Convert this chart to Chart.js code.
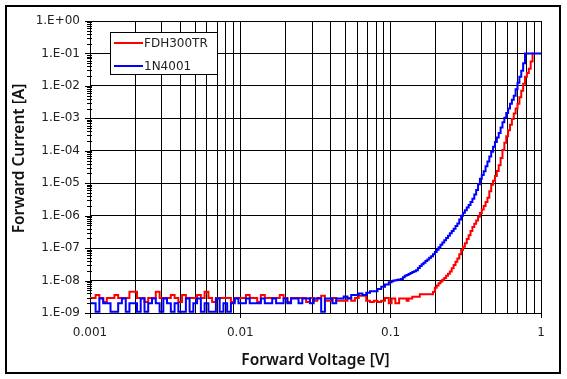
<!DOCTYPE html>
<html><head><meta charset="utf-8">
<script src="https://cdn.jsdelivr.net/npm/chart.js@4/dist/chart.umd.min.js"></script>
<style>html,body{margin:0;padding:0;background:#fff}#wrap{width:567px;height:379px;position:relative}</style>
</head><body><div id="wrap"><canvas id="c" width="567" height="379"></canvas></div>
<script>
const voltages = [
0.001, 0.00106, 0.00112, 0.00119, 0.00126, 0.00133, 0.00141, 0.00150, 0.00158, 0.00168,
0.00178, 0.00188, 0.00200, 0.00211, 0.00224, 0.00237, 0.00251, 0.00266, 0.00282, 0.00299,
0.00316, 0.00335, 0.00355, 0.00376, 0.00398, 0.00422, 0.00447, 0.00473, 0.00501, 0.00531,
0.00562, 0.00596, 0.00631, 0.00668, 0.00708, 0.00750, 0.00794, 0.00841, 0.00891, 0.00944,
0.0100, 0.0106, 0.0112, 0.0119, 0.0126, 0.0133, 0.0141, 0.0150, 0.0158, 0.0168,
0.0178, 0.0188, 0.0200, 0.0211, 0.0224, 0.0237, 0.0251, 0.0266, 0.0282, 0.0299,
0.0316, 0.0335, 0.0355, 0.0376, 0.0398, 0.0422, 0.0447, 0.0473, 0.0501, 0.0531,
0.0562, 0.0596, 0.0631, 0.0668, 0.0708, 0.0750, 0.0794, 0.0841, 0.0891, 0.0944,
0.100, 0.1029, 0.1059, 0.1090, 0.1122, 0.1155, 0.1189, 0.1223, 0.1259, 0.1296,
0.1334, 0.1372, 0.1413, 0.1454, 0.1496, 0.1540, 0.1585, 0.1631, 0.1679, 0.1728,
0.1778, 0.1830, 0.1884, 0.1939, 0.1995, 0.2054, 0.2113, 0.2175, 0.2239, 0.2304,
0.2371, 0.2441, 0.2512, 0.2585, 0.2661, 0.2738, 0.2818, 0.2901, 0.2985, 0.3073,
0.3162, 0.3255, 0.3350, 0.3447, 0.3548, 0.3652, 0.3758, 0.3868, 0.3981, 0.4097,
0.4217, 0.4340, 0.4467, 0.4597, 0.4732, 0.4870, 0.5012, 0.5158, 0.5309, 0.5464,
0.5623, 0.5788, 0.5957, 0.6131, 0.6310, 0.6494, 0.6683, 0.6879, 0.7079, 0.7286,
0.7499, 0.7718, 0.7943, 0.8175, 0.8414, 0.8660, 0.8913, 0.9173, 0.9441, 0.9716,
1.000];

const fdh300trCurrent = [
2.9e-9, 2.9e-9, 3.6e-9, 2.9e-9, 2.2e-9, 2.9e-9, 2.9e-9, 3.6e-9, 2.9e-9, 2.9e-9,
2.9e-9, 4.5e-9, 4.5e-9, 2.9e-9, 2.9e-9, 2.2e-9, 2.9e-9, 2.9e-9, 4.5e-9, 2.9e-9,
2.9e-9, 2.9e-9, 3.6e-9, 2.9e-9, 2.2e-9, 3.6e-9, 2.9e-9, 2.9e-9, 2.9e-9, 3.6e-9,
2.9e-9, 4.5e-9, 2.9e-9, 2.2e-9, 2.9e-9, 2.9e-9, 2.9e-9, 2.9e-9, 2.2e-9, 2.9e-9,
2.9e-9, 2.9e-9, 3.6e-9, 2.9e-9, 2.9e-9, 2.2e-9, 3.6e-9, 2.9e-9, 2.9e-9, 2.9e-9,
2.9e-9, 3.6e-9, 2.9e-9, 2.2e-9, 2.9e-9, 2.9e-9, 2.9e-9, 2.9e-9, 2.2e-9, 2.9e-9,
2.4e-9, 2.9e-9, 3.4e-9, 2.4e-9, 2.4e-9, 2.9e-9, 2.4e-9, 2.4e-9, 2.4e-9, 2.9e-9,
2.4e-9, 2.9e-9, 3.4e-9, 3.4e-9, 2.4e-9, 2.2e-9, 2.4e-9, 2.2e-9, 2.4e-9, 2.9e-9,
2.0e-9, 2.82e-9, 2.82e-9, 2.0e-9, 2.0e-9, 2.82e-9, 2.82e-9, 2.82e-9, 2.82e-9, 2.4e-9,
2.82e-9, 2.82e-9, 3.16e-9, 3.16e-9, 3.16e-9, 3.16e-9, 3.8e-9, 3.8e-9, 3.8e-9, 3.8e-9,
3.8e-9, 3.8e-9, 3.8e-9, 4.47e-9, 6.03e-9, 7.08e-9, 8.32e-9, 9.33e-9, 1.05e-8, 1.2e-8,
1.41e-8, 1.62e-8, 1.91e-8, 2.4e-8, 3.02e-8, 3.8e-8, 4.79e-8, 6.46e-8, 8.71e-8, 1.1e-7,
1.41e-7, 1.91e-7, 2.51e-7, 3.39e-7, 4.47e-7, 5.62e-7, 7.08e-7, 9.33e-7, 1.2e-6, 1.55e-6,
2.0e-6, 2.63e-6, 3.55e-6, 5.62e-6, 8.91e-6, 1.2e-5, 1.66e-5, 2.4e-5, 3.55e-5, 6.03e-5,
1.05e-4, 1.78e-4, 2.82e-4, 4.27e-4, 6.31e-4, 9.55e-4, 1.41e-3, 2.0e-3, 2.82e-3, 4.47e-3,
7.08e-3, 1.17e-2, 1.91e-2, 2.51e-2, 3.39e-2, 5.62e-2, 0.1, null, null, null,
null];

const n4001Current = [
2.0e-9, 2.0e-9, 1.1e-9, 2.8e-9, 2.0e-9, 2.0e-9, 1.1e-9, 1.1e-9, 2.0e-9, 2.8e-9,
1.1e-9, 2.0e-9, 2.0e-9, 1.1e-9, 2.8e-9, 1.1e-9, 2.0e-9, 2.8e-9, 2.0e-9, 1.1e-9,
2.8e-9, 2.0e-9, 1.1e-9, 2.0e-9, 1.1e-9, 1.1e-9, 2.8e-9, 1.1e-9, 2.0e-9, 2.8e-9,
1.1e-9, 2.0e-9, 1.1e-9, 1.1e-9, 2.8e-9, 1.1e-9, 2.0e-9, 1.1e-9, 2.0e-9, 2.8e-9,
2.0e-9, 2.0e-9, 2.8e-9, 2.0e-9, 2.0e-9, 2.0e-9, 2.8e-9, 2.0e-9, 2.0e-9, 2.8e-9,
2.0e-9, 2.0e-9, 2.8e-9, 2.0e-9, 2.8e-9, 2.8e-9, 2.0e-9, 2.8e-9, 2.8e-9, 2.0e-9,
2.8e-9, 2.8e-9, 1.1e-9, 2.8e-9, 2.8e-9, 2.0e-9, 2.8e-9, 2.8e-9, 3.2e-9, 2.8e-9,
3.6e-9, 3.6e-9, 4.0e-9, 3.6e-9, 4.2e-9, 4.7e-9, 4.7e-9, 5.5e-9, 6.5e-9, 7.5e-9,
8.91e-9, 9.55e-9, 1.0e-8, 1.02e-8, 1.05e-8, 1.07e-8, 1.12e-8, 1.26e-8, 1.41e-8, 1.48e-8,
1.58e-8, 1.70e-8, 1.82e-8, 1.95e-8, 2.09e-8, 2.45e-8, 2.82e-8, 3.16e-8, 3.55e-8, 3.98e-8,
4.47e-8, 5.01e-8, 5.62e-8, 6.46e-8, 7.59e-8, 8.91e-8, 1.07e-7, 1.26e-7, 1.48e-7, 1.74e-7,
2.04e-7, 2.40e-7, 2.88e-7, 3.39e-7, 3.98e-7, 4.79e-7, 5.75e-7, 7.59e-7, 1.0e-6, 1.23e-6,
1.48e-6, 1.78e-6, 2.14e-6, 2.63e-6, 3.31e-6, 4.47e-6, 6.17e-6, 9.33e-6, 1.38e-5, 1.78e-5,
2.34e-5, 3.31e-5, 4.68e-5, 6.61e-5, 9.33e-5, 1.32e-4, 1.86e-4, 2.57e-4, 3.55e-4, 5.25e-4,
7.59e-4, 1.05e-3, 1.45e-3, 2.0e-3, 2.82e-3, 3.72e-3, 5.01e-3, 7.94e-3, 1.26e-2, 1.91e-2,
2.95e-2, 5.01e-2, 0.1, 0.1, 0.1, 0.1, 0.1, 0.1, 0.1, 0.1,
0.1];

const seriesNames = ['FDH300TR', '1N4001'];
const seriesColors = ['#ff0000', '#0000ff'];
const xTickValues = [0.001, 0.01, 0.1, 1];
const xTickLabels = ['0.001', '0.01', '0.1', '1'];
const yTickValues = [1e-9, 1e-8, 1e-7, 1e-6, 1e-5, 1e-4, 1e-3, 1e-2, 1e-1, 1];
const yTickLabels = ['1.E-09', '1.E-08', '1.E-07', '1.E-06', '1.E-05', '1.E-04', '1.E-03', '1.E-02', '1.E-01', '1.E+00'];
const xTitle = 'Forward Voltage [V]';
const yTitle = 'Forward Current [A]';

function labelFor(values, labels, v) {
  for (let i = 0; i < values.length; i++) {
    if (Math.abs(v - values[i]) / values[i] < 1e-6) return labels[i];
  }
  return '';
}
function isDecade(values, v) {
  return values.some(d => Math.abs(v - d) / d < 1e-6);
}

const toPoints = arr => voltages.map((v, i) => ({ x: v, y: arr[i] }));

const TICK_FONT = { family: '"DejaVu Sans", Verdana, sans-serif', size: 12 };

const decor = {
  id: 'decor',
  beforeDraw(chart) {
    const c = chart.ctx;
    c.save(); c.fillStyle = '#fff'; c.fillRect(0, 0, chart.width, chart.height); c.restore();
  },
  afterDraw(chart) {
    const c = chart.ctx, ys = chart.scales.y, area = chart.chartArea;
    c.save();
    c.strokeStyle = '#000'; c.lineWidth = 2;
    c.strokeRect(6, 6, 554, 367);
    c.lineWidth = 1;
    const ax = Math.round(area.left);
    c.beginPath();
    for (let i = 0; i < yTickValues.length; i++) {
      const d = yTickValues[i];
      const py = Math.round(ys.getPixelForValue(d)) + 0.5;
      c.moveTo(ax - 5, py); c.lineTo(ax + 2, py);
      if (i < yTickValues.length - 1) {
        for (let m = 2; m <= 9; m++) {
          const pm = Math.round(ys.getPixelForValue(m * d)) + 0.5;
          c.moveTo(ax - 3, pm); c.lineTo(ax + 2, pm);
        }
      }
    }
    c.stroke();
    const lx = 110.5, ly = 32.5, lw = 107, lh = 42;
    c.fillStyle = '#fff'; c.fillRect(lx, ly, lw, lh);
    c.strokeStyle = '#000'; c.lineWidth = 1; c.strokeRect(lx, ly, lw, lh);
    c.font = '12px "DejaVu Sans", Verdana, sans-serif';
    c.textBaseline = 'middle'; c.textAlign = 'left';
    const rows = [43, 66];
    for (let i = 0; i < seriesNames.length; i++) {
      c.strokeStyle = seriesColors[i]; c.lineWidth = 2;
      c.beginPath(); c.moveTo(114, rows[i]); c.lineTo(143, rows[i]); c.stroke();
      c.fillStyle = '#222';
      c.fillText(seriesNames[i], 144, rows[i] + 0.5);
    }
    c.fillStyle = '#111';
    c.font = '600 15.5px "Noto Sans", "Open Sans", sans-serif';
    c.textAlign = 'center'; c.textBaseline = 'alphabetic';
    c.fillText(xTitle, (area.left + area.right) / 2, 365);
    c.translate(24, 158.5);
    c.rotate(-Math.PI / 2);
    c.fillText(yTitle, 0, 0);
    c.restore();
  }
};

new Chart(document.getElementById('c'), {
  type: 'line',
  data: {
    datasets: [
      { label: seriesNames[0], data: toPoints(fdh300trCurrent), borderColor: seriesColors[0], backgroundColor: seriesColors[0],
        borderWidth: 2, pointRadius: 0, stepped: 'middle', spanGaps: false, order: 1 },
      { label: seriesNames[1], data: toPoints(n4001Current), borderColor: seriesColors[1], backgroundColor: seriesColors[1],
        borderWidth: 2, pointRadius: 0, stepped: 'middle', spanGaps: false, order: 0 }
    ]
  },
  options: {
    responsive: false,
    animation: false,
    events: [],
    layout: { padding: { top: 21, right: 26, left: 0, bottom: 0 } },
    plugins: { legend: { display: false }, tooltip: { enabled: false }, title: { display: false } },
    scales: {
      x: {
        type: 'logarithmic', position: 'bottom', min: 0.001, max: 1,
        afterBuildTicks(scale) {
          const t = [];
          for (let i = 0; i < xTickValues.length - 1; i++) {
            for (let m = 1; m <= 9; m++) t.push({ value: m * xTickValues[i] });
          }
          t.push({ value: xTickValues[xTickValues.length - 1] });
          scale.ticks = t;
        },
        afterFit(scale) { scale.height = 66; },
        grid: {
          color: '#000', lineWidth: 1, drawTicks: true, tickLength: 5,
          tickColor: ctx => (ctx.tick && isDecade(xTickValues, ctx.tick.value)) ? '#000' : 'rgba(0,0,0,0)'
        },
        border: { display: true, color: '#000', width: 1 },
        ticks: {
          autoSkip: false, maxRotation: 0, minRotation: 0, padding: 8, color: '#222', font: TICK_FONT,
          callback: v => labelFor(xTickValues, xTickLabels, v)
        },
        title: { display: false }
      },
      y: {
        type: 'logarithmic', position: 'left', min: 1e-9, max: 1,
        afterBuildTicks(scale) { scale.ticks = yTickValues.map(v => ({ value: v })); },
        afterFit(scale) { scale.width = 90; },
        grid: { color: '#000', lineWidth: 1, drawTicks: false },
        border: { display: true, color: '#000', width: 1 },
        ticks: {
          autoSkip: false, padding: 10, color: '#222', font: TICK_FONT,
          callback: v => labelFor(yTickValues, yTickLabels, v)
        },
        title: { display: false }
      }
    }
  },
  plugins: [decor]
});
</script>
</body></html>
